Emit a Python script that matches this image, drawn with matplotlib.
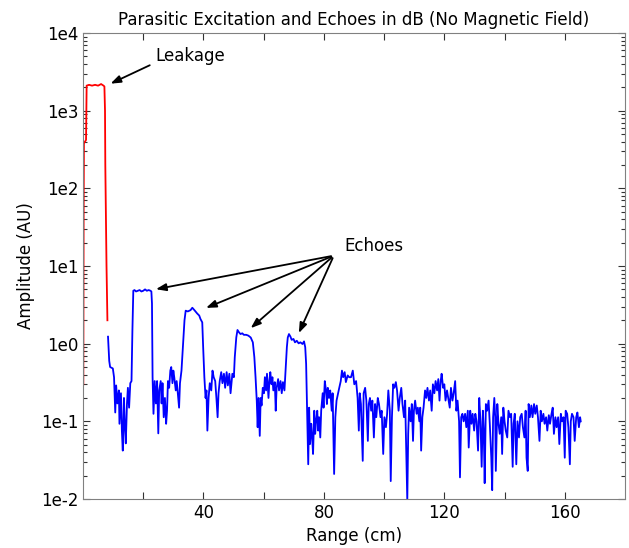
import numpy as np
import matplotlib
matplotlib.use("Agg")
import matplotlib.pyplot as plt
from matplotlib.ticker import LogLocator, FixedLocator, NullFormatter

# leakage (red) trace
leak_range = [0.1, 0.2, 0.3, 1.0, 1.2, 2.0, 3.0, 4.0, 5.0, 6.0, 6.8, 7.1, 7.3, 7.4, 7.8, 8.1]
leak_amp = [0.3, 40, 380, 420, 2100, 2150, 2100, 2150, 2100, 2200, 2100, 2050, 1000, 200, 10, 2.0]

# echo (blue) trace
echo_range = [
    8.3, 8.7, 9.0, 9.9, 10.3, 10.7, 11.0, 11.4, 11.9, 12.1, 12.6, 12.9, 13.2, 13.6, 13.9, 14.2,
    14.6, 14.9, 15.3, 15.7, 16.1, 16.4, 16.7, 17.1, 17.6, 18.2, 18.8, 19.4, 20.0, 20.6, 21.2, 21.8,
    22.4, 22.7, 22.9, 23.1, 23.4, 23.8, 24.2, 24.6, 25.0, 25.3, 25.8, 26.1, 26.4, 26.8, 27.2, 27.6,
    27.9, 28.2, 28.6, 29.0, 29.3, 29.7, 30.0, 30.3, 30.8, 31.1, 31.4, 31.9, 32.2, 32.7, 33.1, 33.7,
    34.1, 34.8, 35.7, 36.3, 37.0, 37.9, 38.6, 39.0, 39.6, 39.9, 40.3, 40.7, 41.0, 41.3, 41.7, 42.1,
    42.6, 43.0, 43.4, 43.9, 44.3, 44.7, 45.0, 45.4, 45.9, 46.3, 46.8, 47.2, 47.7, 48.1, 48.6, 49.0,
    49.6, 50.1, 50.4, 50.9, 51.3, 51.8, 52.3, 52.9, 53.4, 54.2, 54.9, 55.7, 56.4, 56.9, 57.3, 57.7,
    58.0, 58.3, 58.7, 59.0, 59.3, 59.7, 60.1, 60.4, 60.8, 61.1, 61.6, 61.9, 62.2, 62.6, 62.9, 63.2,
    63.7, 64.0, 64.3, 64.8, 65.1, 65.6, 66.0, 66.4, 66.9, 67.3, 67.7, 68.0, 68.4, 68.9, 69.3, 69.9,
    70.4, 71.0, 71.6, 72.2, 72.9, 73.4, 73.8, 74.1, 74.4, 74.8, 75.1, 75.4, 75.8, 76.1, 76.4, 76.8,
    77.1, 77.4, 77.8, 78.1, 78.4, 78.8, 79.1, 79.6, 79.9, 80.3, 80.7, 81.0, 81.3, 81.7, 82.1, 82.6,
    82.9, 83.2, 83.4, 83.8, 84.2, 84.7, 85.1, 85.6, 86.0, 86.4, 86.9, 87.3, 87.9, 88.4, 89.0, 89.6,
    90.1, 90.7, 91.2, 91.6, 91.9, 92.3, 92.9, 93.2, 93.7, 94.1, 94.6, 94.9, 95.3, 95.7, 96.1, 96.6,
    97.0, 97.4, 97.9, 98.3, 98.8, 99.2, 99.7, 100.1, 100.6, 101.0, 101.4, 101.9, 102.2, 102.6, 103.0, 103.4,
    103.9, 104.3, 104.8, 105.2, 105.7, 106.1, 106.6, 107.0, 107.3, 107.7, 108.0, 108.3, 108.8, 109.2, 109.6, 109.9,
    110.3, 110.8, 111.2, 111.7, 112.0, 112.3, 112.7, 113.1, 113.6, 114.0, 114.4, 114.9, 115.3, 115.8, 116.2, 116.7,
    117.1, 117.6, 118.0, 118.4, 118.8, 119.1, 119.6, 120.0, 120.4, 120.9, 121.3, 121.8, 122.2, 122.7, 123.1, 123.6,
    124.0, 124.4, 124.9, 125.2, 125.6, 126.0, 126.4, 126.9, 127.3, 127.8, 128.1, 128.6, 129.0, 129.4, 129.9, 130.3,
    130.7, 131.2, 131.6, 132.0, 132.4, 132.8, 133.1, 133.4, 133.8, 134.2, 134.7, 135.1, 135.6, 135.9, 136.2, 136.6,
    136.9, 137.1, 137.6, 138.0, 138.4, 138.9, 139.2, 139.6, 140.0, 140.4, 140.9, 141.3, 141.8, 142.2, 142.7, 143.0,
    143.4, 143.9, 144.3, 144.8, 145.2, 145.7, 146.1, 146.6, 147.0, 147.3, 147.7, 148.0, 148.4, 148.9, 149.3, 149.8,
    150.2, 150.7, 151.1, 151.6, 152.0, 152.4, 152.9, 153.3, 153.8, 154.2, 154.7, 155.1, 155.6, 156.0, 156.4, 156.9,
    157.3, 157.8, 158.2, 158.7, 159.1, 159.6, 160.0, 160.3, 160.8, 161.2, 161.7, 162.0, 162.4, 162.9, 163.3, 163.8,
    164.2, 164.7, 165.1, 165.3,
]
echo_amp = [
    1.23, 0.60, 0.50, 0.48, 0.37, 0.13, 0.29, 0.17, 0.25, 0.093, 0.23, 0.076, 0.042, 0.20, 0.084, 0.052,
    0.17, 0.27, 0.15, 0.31, 0.33, 1.47, 4.8, 4.9, 4.7, 4.8, 4.9, 4.7, 4.8, 5.0, 4.8, 4.9,
    4.8, 4.7, 3.3, 0.37, 0.125, 0.33, 0.17, 0.33, 0.07, 0.25, 0.33, 0.17, 0.31, 0.113, 0.20, 0.093,
    0.137, 0.33, 0.27, 0.45, 0.50, 0.31, 0.45, 0.37, 0.25, 0.33, 0.25, 0.15, 0.31, 0.45, 0.81, 2.0,
    2.66, 2.6, 2.7, 2.9, 2.7, 2.45, 2.3, 2.08, 1.88, 0.9, 0.37, 0.20, 0.25, 0.076, 0.20, 0.31,
    0.25, 0.45, 0.37, 0.33, 0.20, 0.113, 0.23, 0.33, 0.43, 0.31, 0.41, 0.27, 0.43, 0.29, 0.41, 0.23,
    0.41, 0.37, 0.67, 1.2, 1.5, 1.4, 1.33, 1.36, 1.3, 1.3, 1.27, 1.2, 1.04, 0.67, 0.37, 0.185,
    0.084, 0.20, 0.065, 0.20, 0.16, 0.27, 0.23, 0.37, 0.25, 0.41, 0.20, 0.33, 0.43, 0.30, 0.37, 0.25,
    0.32, 0.137, 0.27, 0.35, 0.25, 0.33, 0.23, 0.32, 0.25, 0.47, 0.9, 1.2, 1.33, 1.23, 1.12, 1.15,
    1.04, 1.09, 1.01, 1.04, 0.99, 1.07, 0.9, 0.55, 0.15, 0.028, 0.15, 0.051, 0.093, 0.062, 0.038, 0.137,
    0.069, 0.10, 0.137, 0.076, 0.113, 0.062, 0.137, 0.23, 0.15, 0.33, 0.25, 0.167, 0.27, 0.20, 0.25, 0.137,
    0.23, 0.051, 0.021, 0.113, 0.185, 0.23, 0.27, 0.33, 0.45, 0.37, 0.43, 0.32, 0.39, 0.37, 0.37, 0.45,
    0.30, 0.33, 0.20, 0.076, 0.23, 0.167, 0.031, 0.23, 0.27, 0.185, 0.056, 0.167, 0.20, 0.137, 0.185, 0.062,
    0.167, 0.113, 0.20, 0.167, 0.113, 0.137, 0.038, 0.113, 0.084, 0.125, 0.25, 0.137, 0.017, 0.113, 0.30, 0.27,
    0.32, 0.25, 0.137, 0.20, 0.27, 0.167, 0.113, 0.185, 0.051, 0.0095, 0.069, 0.15, 0.10, 0.167, 0.056, 0.137,
    0.185, 0.125, 0.15, 0.10, 0.15, 0.042, 0.113, 0.15, 0.25, 0.20, 0.27, 0.185, 0.25, 0.137, 0.30, 0.23,
    0.33, 0.25, 0.35, 0.185, 0.33, 0.41, 0.27, 0.30, 0.185, 0.25, 0.20, 0.15, 0.27, 0.185, 0.23, 0.33,
    0.137, 0.185, 0.10, 0.019, 0.113, 0.125, 0.10, 0.125, 0.084, 0.137, 0.046, 0.137, 0.093, 0.125, 0.076, 0.125,
    0.10, 0.042, 0.20, 0.10, 0.026, 0.137, 0.076, 0.016, 0.167, 0.137, 0.185, 0.093, 0.034, 0.013, 0.113, 0.20,
    0.113, 0.023, 0.167, 0.093, 0.069, 0.113, 0.038, 0.15, 0.10, 0.076, 0.062, 0.137, 0.113, 0.125, 0.026, 0.093,
    0.125, 0.028, 0.10, 0.062, 0.113, 0.125, 0.084, 0.062, 0.137, 0.034, 0.023, 0.167, 0.113, 0.16, 0.113, 0.167,
    0.125, 0.16, 0.113, 0.056, 0.137, 0.10, 0.125, 0.093, 0.113, 0.076, 0.12, 0.093, 0.125, 0.15, 0.069, 0.113,
    0.084, 0.113, 0.051, 0.125, 0.10, 0.113, 0.034, 0.137, 0.125, 0.084, 0.028, 0.10, 0.125, 0.113, 0.056, 0.113,
    0.13, 0.084, 0.113, 0.10,
]

# arrow tips for the echo annotation
echo_tips_range = [23.3, 40.0, 55.0, 71.3]
echo_tips_amp = [4.95, 2.8, 1.5, 1.27]

x_labeled = [40, 80, 120, 160]
x_unlabeled = [20, 60, 100, 140]

fig = plt.figure(figsize=(6.29, 5.48), dpi=100)
ax = fig.add_axes([0.132, 0.0894, 0.8616, 0.8504])

ax.plot(leak_range, leak_amp, color="red", lw=1.3)
ax.plot(echo_range, echo_amp, color="blue", lw=1.3)

ax.set_yscale("log")
ax.set_xlim(0, 180)
ax.set_ylim(1e-2, 1e4)

ax.set_yticks([1e-2, 1e-1, 1e0, 1e1, 1e2, 1e3, 1e4])
ax.set_yticklabels(["1e-2", "1e-1", "1e0", "1e1", "1e2", "1e3", "1e4"])
ax.yaxis.set_minor_locator(LogLocator(base=10, subs=np.arange(2, 10)))
ax.yaxis.set_minor_formatter(NullFormatter())
ax.xaxis.set_major_locator(FixedLocator(x_labeled))
ax.xaxis.set_minor_locator(FixedLocator(x_unlabeled))

ax.tick_params(which="both", direction="in", top=True, right=True, labelsize=12, colors="#333333",
               labelcolor="black")
ax.tick_params(which="major", length=5, width=0.8)
ax.tick_params(axis="y", which="minor", length=3, width=0.8)
ax.tick_params(axis="x", which="minor", length=5, width=0.8)
for s in ax.spines.values():
    s.set_color("#808080")

ax.set_title("Parasitic Excitation and Echoes in dB (No Magnetic Field)", fontsize=12, pad=6)
ax.set_xlabel("Range (cm)", fontsize=12)
ax.set_ylabel("Amplitude (AU)", fontsize=12)

arrow = dict(arrowstyle="-|>,head_length=0.6,head_width=0.22", color="black", lw=1.3)
ax.annotate("", xy=(8.3, 2150), xytext=(23, 3980), arrowprops=arrow)
ax.text(24, 5120, "Leakage", fontsize=12, ha="left", va="center")

ax.text(86.7, 18.3, "Echoes", fontsize=12, ha="left", va="center")
for tx, ty in zip(echo_tips_range, echo_tips_amp):
    ax.annotate("", xy=(tx, ty), xytext=(83.3, 13.6), arrowprops=arrow)

fig.savefig("out.png", dpi=100)
